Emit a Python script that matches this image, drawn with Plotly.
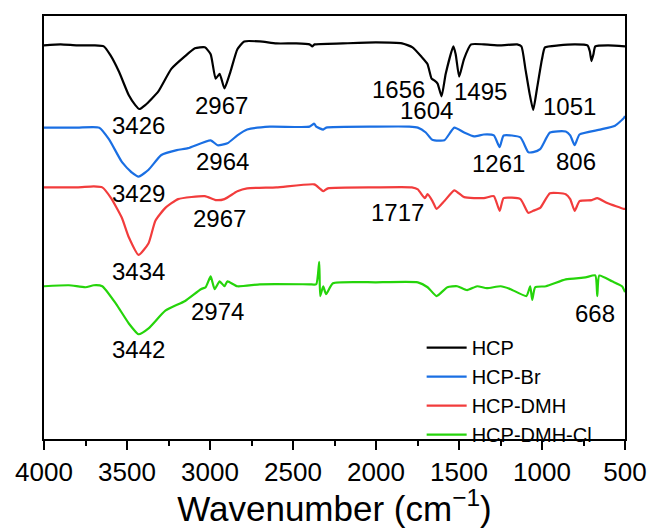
import plotly.graph_objects as go

# ---- data (wavenumber in cm^-1, offset transmittance in a.u.) ----
wn_hcp = [4000, 3900, 3800, 3700, 3640, 3600, 3548, 3489, 3450, 3426, 3390, 3311, 3233, 3150, 3091,
          3031, 2996, 2966, 2942, 2913, 2877, 2835, 2794, 2700, 2600, 2480, 2400, 2384, 2370, 2200,
          2000, 1843, 1780, 1724, 1690, 1665, 1647, 1629, 1605, 1580, 1534, 1520, 1499, 1470, 1427,
          1350, 1250, 1150, 1124, 1100, 1075, 1053, 1030, 1000, 982, 900, 800, 726, 712, 702,
          690, 679, 600, 500]
t_hcp = [402, 403, 402, 402, 401, 392, 375, 351, 341, 337, 341, 355, 378, 391, 399,
         400, 393, 368, 373, 358, 375, 398, 406, 406, 404, 404, 403, 401, 403, 404,
         405, 404, 400, 390, 383, 368, 366, 363, 350, 373, 401, 393, 370, 388, 403,
         403, 402, 403, 401, 378, 353, 336, 358, 388, 400, 402, 403, 402, 396, 386,
         393, 401, 402, 401]

wn_br = [4000, 3800, 3667, 3608, 3531, 3470, 3430, 3370, 3293, 3200, 3132, 2996, 2954, 2895, 2835,
         2776, 2639, 2400, 2372, 2360, 2318, 2300, 2000, 1800, 1748, 1700, 1665, 1647, 1588, 1528,
         1469, 1409, 1350, 1290, 1255, 1231, 1130, 1083, 1053, 1011, 952, 857, 830, 803, 774,
         650, 560, 506, 500]
t_br = [318, 318, 318, 306, 283, 272, 268, 275, 290, 295, 297, 305, 300, 302, 310,
        316, 319, 319, 322, 319, 316, 318, 319, 319, 318, 313, 306, 305, 305, 318,
        313, 309, 311, 310, 298, 310, 308, 293, 293, 296, 313, 314, 310, 300, 311,
        316, 320, 328, 330]

wn_dmh = [4000, 3800, 3700, 3649, 3596, 3531, 3489, 3430, 3370, 3329, 3269, 3192, 3031, 2966, 2913,
          2835, 2776, 2600, 2372, 2340, 2318, 2290, 2000, 1784, 1748, 1706, 1689, 1660, 1635, 1588,
          1528, 1469, 1350, 1290, 1255, 1231, 1130, 1083, 1053, 1011, 952, 857, 830, 803, 774,
          700, 667, 607, 506, 500]
t_dmh = [257, 257, 258, 257, 246, 226, 206, 188, 200, 223, 236, 245, 248, 244, 245,
         253, 256, 257, 260, 256, 253, 256, 257, 257, 255, 246, 250, 243, 235, 243,
         254, 247, 246, 248, 233, 246, 245, 231, 233, 236, 251, 250, 245, 233, 243,
         244, 246, 241, 235, 235]

wn_cl = [4000, 3850, 3750, 3700, 3649, 3566, 3489, 3430, 3370, 3269, 3150, 3055, 3026, 2996, 2972,
         2942, 2913, 2895, 2835, 2700, 2400, 2360, 2342, 2336, 2318, 2301, 2259, 2000, 1748, 1689,
         1635, 1570, 1511, 1451, 1391, 1332, 1249, 1189, 1094, 1071, 1059, 1041, 976, 857, 738,
         679, 667, 655, 578, 518, 500]
t_cl = [156, 157, 155, 157, 156, 138, 118, 107, 113, 131, 141, 153, 155, 166, 153,
        161, 156, 161, 156, 158, 158, 158, 181, 146, 156, 148, 159, 160, 160, 155,
        146, 155, 156, 152, 156, 154, 156, 153, 146, 156, 142, 155, 156, 163, 165,
        167, 146, 167, 161, 156, 150]

series_names = ["HCP", "HCP-Br", "HCP-DMH", "HCP-DMH-Cl"]
series_x = [wn_hcp, wn_br, wn_dmh, wn_cl]
series_y = [t_hcp, t_br, t_dmh, t_cl]
colors = ["#000000", "#1a6fe3", "#f23c3c", "#25d40a"]

peak_labels = ["3426", "2967", "1656", "1604", "1495", "1051",
               "3429", "2964", "1261", "806",
               "3434", "2967", "1717",
               "3442", "2974", "668"]
label_x = [3430, 2930, 1867, 1694, 1368, 833,
           3430, 2924, 1261, 797,
           3430, 2942, 1873,
           3430, 2954, 678]
label_y = [320, 341, 357, 335, 355, 340,
           251, 283, 281, 283,
           171, 225, 231,
           91, 130, 128]

tick_vals = [4000, 3500, 3000, 2500, 2000, 1500, 1000, 500]

FONT = "Arial, Liberation Sans, sans-serif"

fig = go.Figure()
for name, xs, ys, c in zip(series_names, series_x, series_y, colors):
    fig.add_trace(go.Scatter(x=xs, y=ys, mode="lines", name=name,
                             line=dict(color=c, width=2.2, shape="spline", smoothing=0.5)))

for txt, ax, ay in zip(peak_labels, label_x, label_y):
    fig.add_annotation(x=ax, y=ay, text=txt, showarrow=False,
                       font=dict(family=FONT, size=24, color="black"))

fig.update_layout(
    width=659, height=528,
    margin=dict(l=44, r=26, t=16, b=80),
    paper_bgcolor="white", plot_bgcolor="white",
    font=dict(family=FONT, color="black"),
    showlegend=True,
    legend=dict(x=0.65, y=0.262, xanchor="left", yanchor="top",
                bgcolor="rgba(0,0,0,0)", font=dict(family=FONT, size=20),
                tracegroupgap=0, itemwidth=40),
)
fig.update_xaxes(
    range=[4000, 500], tickvals=tick_vals,
    ticktext=[str(v) for v in tick_vals],
    ticks="outside", ticklen=9, tickwidth=2, tickcolor="black",
    minor=dict(dtick=250, tick0=500, ticks="outside", ticklen=5, tickwidth=2, tickcolor="black"),
    showline=True, linecolor="black", linewidth=2, mirror=True,
    showgrid=False, zeroline=False,
    tickfont=dict(family=FONT, size=26, color="black"),
    title=dict(text="Wavenumber (cm<sup>−1</sup>)", font=dict(family=FONT, size=35, color="black"),
               standoff=4),
)
fig.update_yaxes(
    range=[0, 432], showticklabels=False, ticks="",
    showline=True, linecolor="black", linewidth=2, mirror=True,
    showgrid=False, zeroline=False,
)

fig.write_html("out.html")
